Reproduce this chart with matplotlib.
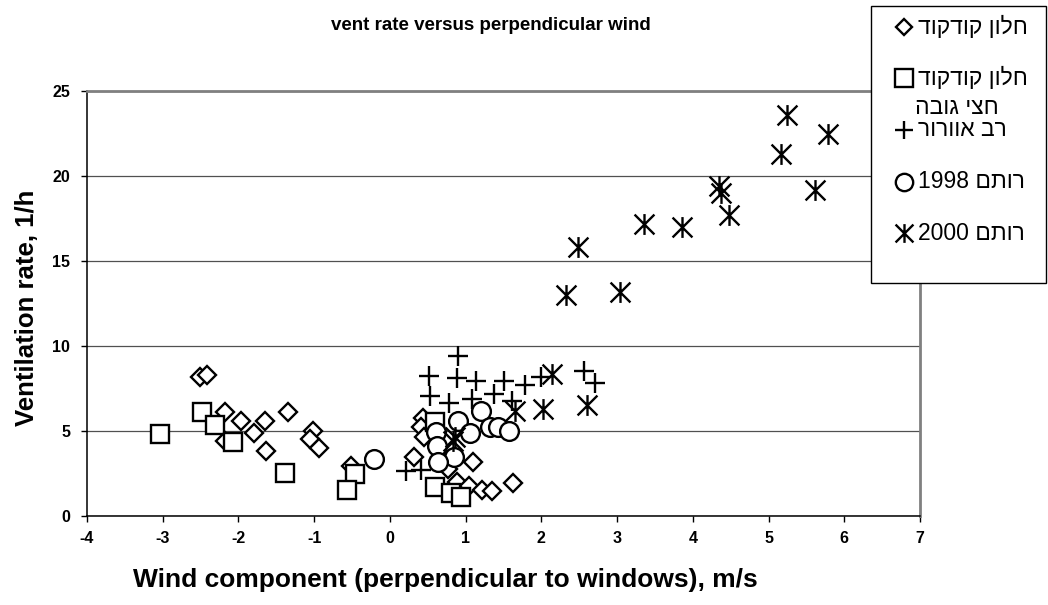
import matplotlib
matplotlib.use("Agg")
import matplotlib.pyplot as plt
from matplotlib.path import Path
from matplotlib.lines import Line2D
from matplotlib.patches import Rectangle

plt.rcParams['font.family'] = ['Liberation Sans', 'DejaVu Sans']

# ---- data ----
diamond_x = [-2.51, -2.42, -2.18, -2.18, -1.97, -1.79, -1.65, -1.63, -1.34, -1.02, -1.06, -0.93, -0.52,
             0.44, 0.41, 0.45, 0.32, 0.77, 1.10, 0.88, 1.05, 1.21, 1.35, 1.63]
diamond_y = [8.16, 8.27, 6.10, 4.40, 5.58, 4.87, 5.58, 3.81, 6.10, 4.99, 4.52, 3.99, 2.93,
             5.75, 5.22, 4.63, 3.46, 2.76, 3.17, 1.99, 1.76, 1.53, 1.47, 1.94]

square_x = [-3.04, -2.48, -2.31, -2.07, -1.39, -0.46, -0.57, 0.60, 0.59, 0.81, 0.94]
square_y = [4.81, 6.10, 5.34, 4.34, 2.52, 2.46, 1.53, 5.55, 1.70, 1.35, 1.11]

plus_x = [0.90, 0.52, 0.88, 1.14, 1.50, 0.53, 0.78, 1.09, 1.37, 1.61, 1.78, 1.99, 2.56, 2.71, 0.21, 0.41]
plus_y = [9.39, 8.22, 8.10, 7.92, 7.92, 7.04, 6.63, 6.87, 7.16, 6.75, 7.69, 8.16, 8.51, 7.80, 2.64, 2.70]

circle_x = [-0.21, 1.20, 0.90, 0.61, 1.06, 1.32, 1.43, 1.57, 0.62, 0.84, 0.64]
circle_y = [3.34, 6.16, 5.58, 4.93, 4.87, 5.22, 5.22, 4.99, 4.10, 3.46, 3.17]

aster_x = [5.25, 5.78, 5.16, 4.34, 4.37, 4.48, 5.62, 3.36, 3.86, 2.49, 2.33, 3.04,
           2.14, 1.65, 2.02, 2.60, 0.86, 0.83]
aster_y = [23.6, 22.5, 21.3, 19.4, 19.0, 17.7, 19.2, 17.2, 17.0, 15.8, 13.0, 13.2,
           8.33, 6.16, 6.28, 6.51, 4.63, 4.40]

# legend labels (logical Hebrew order)
labels = ["חלון קודקוד", "חלון קודקוד חצי גובה", "רב אוורור", "רותם 1998", "רותם 2000"]

x_ticks = [-4, -3, -2, -1, 0, 1, 2, 3, 4, 5, 6, 7]
y_ticks = [0, 5, 10, 15, 20, 25]

title = "vent rate versus perpendicular wind"
xlabel = "Wind component (perpendicular to windows), m/s"
ylabel = "Ventilation rate, 1/h"


def visual(s):
    """Convert logical RTL text to left-to-right visual order (keeps digit runs)."""
    words = s.split(" ")
    out = []
    for w in reversed(words):
        if any('\u0590' <= c <= '\u05FF' for c in w):
            out.append(w[::-1])
        else:
            out.append(w)
    return " ".join(out)


# asterisk marker: X plus vertical bar
aster_path = Path([(-1, -1), (1, 1), (-1, 1), (1, -1), (0, -1.05), (0, 1.05)],
                  [Path.MOVETO, Path.LINETO, Path.MOVETO, Path.LINETO, Path.MOVETO, Path.LINETO])

W, H = 1048, 605
fig = plt.figure(figsize=(W / 100, H / 100), dpi=100)
ax = fig.add_axes([87 / W, (H - 516) / H, (920 - 87) / W, (516 - 91) / H])

styles = [
    dict(marker='D', ms=9.0),
    dict(marker='s', ms=13.5),
    dict(marker='+', ms=14.5),
    dict(marker='o', ms=13.5),
    dict(marker=aster_path, ms=15),
]
series = [(diamond_x, diamond_y), (square_x, square_y), (plus_x, plus_y),
          (circle_x, circle_y), (aster_x, aster_y)]


def face(st):
    return 'none' if (st['marker'] == '+' or st['marker'] is aster_path) else 'white'


for (xs, ys), st, z in zip(series, styles, range(3, 8)):
    ax.plot(xs, ys, linestyle='none', marker=st['marker'], ms=st['ms'],
            mfc=face(st), mec='black', mew=1.7, zorder=z, clip_on=False)

ax.set_xlim(-4, 7)
ax.set_ylim(0, 25)
ax.set_xticks(x_ticks)
ax.set_yticks(y_ticks)
ax.set_xticklabels([str(t) for t in x_ticks])
ax.set_yticklabels([str(t) for t in y_ticks])
ax.yaxis.grid(True, color='#505050', linewidth=0.9)
ax.set_axisbelow(True)
for lab in ax.get_xticklabels() + ax.get_yticklabels():
    lab.set_fontweight('bold')
    lab.set_fontsize(11.5)
ax.tick_params(axis='x', direction='out', length=4, width=1, pad=7)
ax.tick_params(axis='y', direction='out', length=4, width=1, pad=8)
ax.spines['left'].set_color('black')
ax.spines['bottom'].set_color('black')
ax.spines['left'].set_linewidth(1.1)
ax.spines['bottom'].set_linewidth(1.1)
for s in ('top', 'right'):
    ax.spines[s].set_color('#808080')
    ax.spines[s].set_linewidth(2.0)

fig.text(491 / W, 1 - 25 / H, title, ha='center', va='center', fontsize=13.5, fontweight='bold')
fig.text(445 / W, 1 - 580 / H, xlabel, ha='center', va='center', fontsize=19, fontweight='bold')
fig.text(27 / W, 1 - 308 / H, ylabel, ha='center', va='center', rotation=90,
         fontsize=18.5, fontweight='bold')

# ---- legend box (drawn manually to match Excel layout) ----
fig.add_artist(Rectangle((871 / W, 1 - 283 / H), (1046 - 871) / W, (283 - 6) / H,
                         transform=fig.transFigure, facecolor='white', edgecolor='black',
                         linewidth=1.0, zorder=10))
rows_y = [27, 78, 130, 182, 233]
leg_ms = [8.5, 12.5, 13.5, 12.5, 13.5]
leg_fs = 16.5
for i, (lab, st, ry) in enumerate(zip(labels, styles, rows_y)):
    fig.add_artist(Line2D([904 / W], [1 - ry / H], transform=fig.transFigure, linestyle='none',
                          marker=st['marker'], ms=leg_ms[i], mfc=face(st), mec='black',
                          mew=1.7, zorder=11))
    if i == 1:
        fig.text(918 / W, 1 - ry / H, visual("חלון קודקוד"), ha='left', va='center',
                 fontsize=leg_fs, zorder=12)
        fig.text(915 / W, 1 - 107 / H, visual("חצי גובה"), ha='left', va='center',
                 fontsize=leg_fs, zorder=12)
    else:
        fig.text(918 / W, 1 - ry / H, visual(lab), ha='left', va='center', fontsize=leg_fs, zorder=12)

fig.savefig("out.png", dpi=100)
